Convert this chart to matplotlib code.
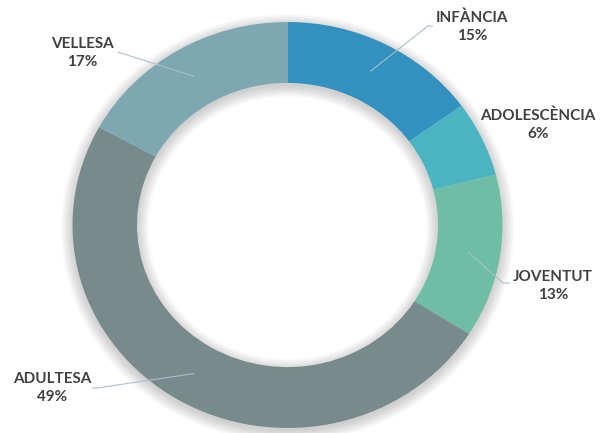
import matplotlib
matplotlib.use('Agg')
import matplotlib.pyplot as plt
from matplotlib.patches import Wedge
import numpy as np

categories = ['INFÀNCIA', 'ADOLESCÈNCIA', 'JOVENTUT', 'ADULTESA', 'VELLESA']
values = [15, 6, 13, 49, 17]
colors = ['#3291BE', '#4BB4C3', '#6EBEA5', '#788B8C', '#7DA8B2']

W, H = 601, 433
fig = plt.figure(figsize=(W / 100, H / 100), dpi=100)
ax = fig.add_axes([0, 0, 1, 1])

INNER = 0.70
wedges, _ = ax.pie(values, colors=colors, startangle=90, counterclock=False,
                   radius=1.0, wedgeprops=dict(width=1 - INNER, linewidth=0))
for w in wedges:
    w.set_zorder(3)

# pixel geometry (slightly elliptical donut as in the reference)
cx, cy, rx, ry = 287.5, 225.0, 215.0, 203.0
ax.set_aspect('auto')
ax.set_xlim(-cx / rx, (W - cx) / rx)
ax.set_ylim((cy - H) / ry, cy / ry)
ax.axis('off')


def px(x, y):
    return ((x - cx) / rx, (cy - y) / ry)


# soft drop shadow
off = (0, -3.0 / ry)
for k in range(10):
    s = k * 0.006
    ax.add_patch(Wedge(off, 1.0 + s, 0, 360, width=(1.0 + s) - (INNER - s),
                       facecolor='#606060', alpha=0.03, linewidth=0, zorder=1))

# labels and leader lines
label_pos = [(472, 27), (538, 125), (553, 286), (52, 388), (82, 53)]
anchors = [[(433, 26), (428, 26)], None, [(510, 283), (503, 283)],
           [(92, 388), (97, 388)], [(118, 52)]]

for w, cat, v, lp, anc in zip(wedges, categories, values, label_pos, anchors):
    mid = np.deg2rad((w.theta1 + w.theta2) / 2)
    r = 0.85
    end = (r * np.cos(mid), r * np.sin(mid))
    if anc is not None:
        pts = [px(*p) for p in anc] + [end]
        xs, ys = zip(*pts)
        ax.plot(xs, ys, color='#A9C0CC', lw=0.8, zorder=4, solid_capstyle='butt')
    tx, ty = px(*lp)
    ax.text(tx, ty, f'{cat}\n{v}%', ha='center', va='center', fontsize=11,
            fontweight='bold', family='Lato', color='#404040',
            linespacing=1.4, zorder=5)

fig.savefig('out.png', dpi=100, facecolor='white')
